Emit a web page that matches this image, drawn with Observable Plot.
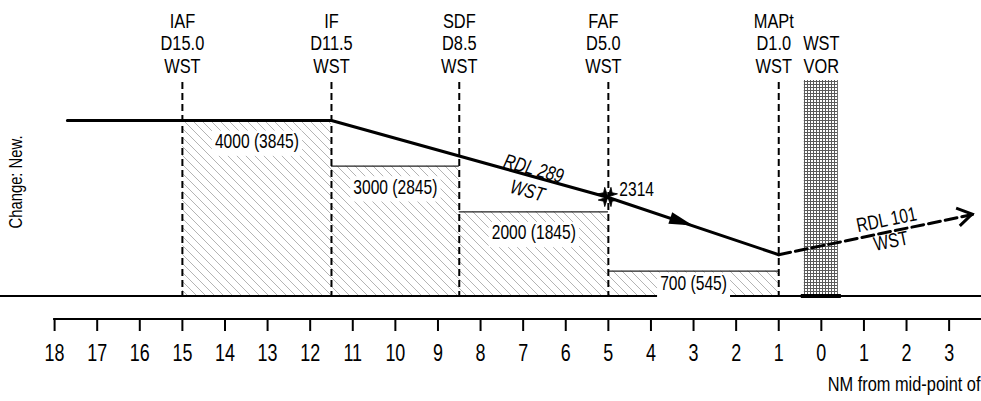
<!DOCTYPE html>
<html>
<head>
<meta charset="utf-8">
<script src="https://cdn.jsdelivr.net/npm/d3@7"></script>
<script src="https://cdn.jsdelivr.net/npm/@observablehq/plot@0.6"></script>
<style>
html,body{margin:0;padding:0;background:#fff;}
</style>
</head>
<body>
<div id="chart"></div>
<script>
// ---------------- data ----------------
const fixNames = ["IAF", "IF", "SDF", "FAF", "MAPt"];
const fixDist  = [15.0, 11.5, 8.5, 5.0, 1.0];
const fixRef   = ["D15.0", "D11.5", "D8.5", "D5.0", "D1.0"];
const fixNav   = ["WST", "WST", "WST", "WST", "WST"];

const stepStart  = [15.0, 11.5, 8.5, 5.0];
const stepEnd    = [11.5, 8.5, 5.0, 1.0];
const stepAlt    = [4000, 3000, 2000, 700];
const stepHeight = [3845, 2845, 1845, 545];

const elevation = 155;

const profileDist = [17.7, 11.5, 5.0, 1.0];
const profileAlt  = [4000, 4000, 2314, 1060];

const missedDist = [1.0, -3.55];
const missedAlt  = [1060, 1940];

const fafAltitude = 2314;
const vorDist = 0;
const vorExtent = [0.4, -0.4];
const vorLabel = ["WST", "VOR"];

const inboundRadial  = ["RDL 289", "WST"];
const outboundRadial = ["RDL 101", "WST"];

const tickValues = [18, 17, 16, 15, 14, 13, 12, 11, 10, 9, 8, 7, 6, 5, 4, 3, 2, 1, 0, -1, -2, -3];
const axisTitle = "NM from mid-point of";
const noteText = "Change: New.";

// ---------------- tables ----------------
const fixes = fixNames.map((n, i) => ({name: n, dist: fixDist[i], label: `${n}\n${fixRef[i]}\n${fixNav[i]}`}));
const steps = stepStart.map((s, i) => ({start: s, end: stepEnd[i], alt: stepAlt[i], height: stepHeight[i]}));
const profile = profileDist.map((d, i) => ({dist: d, alt: profileAlt[i]}));
const missed = missedDist.map((d, i) => ({dist: d, alt: missedAlt[i]}));
const faf = fixes.find(f => f.name === "FAF");

const along = (a, b, t) => ({dist: a.dist + (b.dist - a.dist) * t, alt: a.alt + (b.alt - a.alt) * t});
const inboundAt = along(profile[1], profile[2], 0.72);
const outboundAt = along(missed[0], missed[1], 0.567);

const FONT = "'Liberation Sans Narrow', 'Arial Narrow', 'Liberation Sans', Arial, sans-serif";
const CONDENSE = 0.78; // horizontal squeeze to emulate a narrow face

// ---------------- custom render marks ----------------
function defsMark() {
  const defs = d3.create("svg:defs");
  const h = defs.append("pattern").attr("id", "hatch").attr("patternUnits", "userSpaceOnUse")
    .attr("width", 9).attr("height", 9);
  h.append("path").attr("d", "M0,0L9,9M-1,8L1,10M8,-1L10,1")
    .attr("stroke", "#b4b4b4").attr("stroke-width", 1).attr("fill", "none");
  const g = defs.append("pattern").attr("id", "vorgrid").attr("patternUnits", "userSpaceOnUse")
    .attr("width", 3).attr("height", 3);
  g.append("rect").attr("width", 3).attr("height", 3).attr("fill", "#fff");
  g.append("path").attr("d", "M0,0.5H3M0.5,0V3").attr("stroke", "#5a5a5a").attr("stroke-width", 1);
  return defs.node();
}

function vorBoxMark(index, scales, values, dims) {
  const {x, y} = scales;
  const g = d3.create("svg:g");
  const xa = x(vorExtent[0]), xb = x(vorExtent[1]);
  g.append("rect")
    .attr("x", Math.min(xa, xb)).attr("width", Math.abs(xb - xa))
    .attr("y", dims.marginTop - 2).attr("height", y(elevation) - dims.marginTop + 2)
    .attr("fill", "url(#vorgrid)");
  return g.node();
}

function axisLineMark(index, scales, values, dims) {
  const {x} = scales;
  const g = d3.create("svg:g");
  const yy = dims.height - dims.marginBottom;
  g.append("line").attr("x1", x(tickValues[0]) - 1).attr("x2", dims.width)
    .attr("y1", yy).attr("y2", yy).attr("stroke", "black").attr("stroke-width", 2);
  return g.node();
}

function arrowheadMark(index, scales) {
  const {x, y} = scales;
  const g = d3.create("svg:g");
  // filled arrow in the middle of the final approach
  const a = profile[2], b = profile[3];
  const ax = x(a.dist), ay = y(a.alt), bx = x(b.dist), by = y(b.alt);
  const ang = Math.atan2(by - ay, bx - ax);
  const tx = (ax + bx) / 2, ty = (ay + by) / 2;
  const L = 24, W = 6;
  const c = Math.cos(ang), s = Math.sin(ang);
  g.append("path")
    .attr("d", `M${tx},${ty}L${tx - L * c + W * s},${ty - L * s - W * c}L${tx - L * c - W * s},${ty - L * s + W * c}Z`)
    .attr("fill", "black");
  // open chevron at the end of the missed approach
  const m0 = missed[0], m1 = missed[1];
  const mx0 = x(m0.dist), my0 = y(m0.alt), ex = x(m1.dist), ey = y(m1.alt);
  const ang2 = Math.atan2(ey - my0, ex - mx0);
  const L2 = 17, half = Math.PI / 5.6;
  g.append("path")
    .attr("d", `M${ex - L2 * Math.cos(ang2 - half)},${ey - L2 * Math.sin(ang2 - half)}L${ex},${ey}L${ex - L2 * Math.cos(ang2 + half)},${ey - L2 * Math.sin(ang2 + half)}`)
    .attr("fill", "none").attr("stroke", "black").attr("stroke-width", 3).attr("stroke-linejoin", "miter");
  return g.node();
}

function fafCrossMark(index, scales) {
  const {x, y} = scales;
  const cx = x(faf.dist), cy = y(fafAltitude);
  const g = d3.create("svg:g").attr("transform", `translate(${cx},${cy}) rotate(45)`);
  const armLen = 9, armW = 4.6, notch = 3;
  let d = "";
  for (let k = 0; k < 4; k++) {
    const th = k * Math.PI / 2, c = Math.cos(th), s = Math.sin(th);
    const p = (u, v) => `${u * c - v * s},${u * s + v * c}`;
    d += `M${p(0, 0)}L${p(armLen, -armW)}L${p(armLen - notch, 0)}L${p(armLen, armW)}Z`;
  }
  g.append("path").attr("d", d).attr("fill", "black").attr("stroke", "black").attr("stroke-width", 0.8);
  return g.node();
}

// ---------------- plot ----------------
const chart = Plot.plot({
  width: 981,
  height: 401,
  marginTop: 82,
  marginBottom: 82,
  marginLeft: 0,
  marginRight: 0,
  style: {fontFamily: FONT, fontSize: "20px", background: "white", color: "black", overflow: "visible"},
  x: {domain: [19.27, -3.76], range: [0, 981]},
  y: {domain: [0, 4000], range: [302.6, 120], axis: null},
  marks: [
    defsMark,
    // hatched minimum-altitude steps
    Plot.rect(steps, {x1: "start", x2: "end", y1: elevation, y2: "alt", fill: "url(#hatch)"}),
    Plot.ruleY(steps.slice(1), {x1: "start", x2: "end", y: "alt", stroke: "#222", strokeWidth: 1.2}),
    // ground / aerodrome elevation
    Plot.ruleY([elevation], {stroke: "black", strokeWidth: 2}),
    // VOR
    vorBoxMark,
    Plot.ruleY([elevation], {x1: vorExtent[0], x2: vorExtent[1], stroke: "black", strokeWidth: 4, insetLeft: -3, insetRight: -3}),
    // fix guide lines
    Plot.ruleX(fixes, {x: "dist", y1: null, y2: elevation, stroke: "black", strokeWidth: 2, strokeDasharray: "7,4"}),
    // step labels
    Plot.text(steps, {
      x: d => (d.start + d.end) / 2,
      y: d => Math.max(d.alt - 460, (d.alt + elevation) / 2),
      text: d => `${d.alt} (${d.height})`,
      fontSize: 20
    }),
    // profile
    Plot.line(profile, {x: "dist", y: "alt", stroke: "black", strokeWidth: 3}),
    Plot.line(missed, {x: "dist", y: "alt", stroke: "black", strokeWidth: 3, strokeDasharray: "12,5"}),
    arrowheadMark,
    // FAF cross and altitude
    fafCrossMark,
    Plot.text([faf], {x: "dist", y: () => fafAltitude, text: () => String(fafAltitude), textAnchor: "start", dx: 11, dy: -8, fontSize: 20}),
    // radial labels
    Plot.text([inboundAt], {x: "dist", y: "alt", text: () => inboundRadial.join("\n"), rotate: 15.6, fontStyle: "italic", fontSize: 20, lineHeight: 1.15, dy: 3}),
    Plot.text([outboundAt], {x: "dist", y: "alt", text: () => outboundRadial.join("\n"), rotate: -11.6, fontSize: 20, lineHeight: 1.1, dy: -2}),
    // fix labels
    Plot.text(fixes.filter(f => f.name !== "FAF" && f.name !== "MAPt"), {x: "dist", text: "label", frameAnchor: "top", lineAnchor: "bottom", dy: -10, fontSize: 21, lineHeight: 1.05}),
    Plot.text(fixes.filter(f => f.name === "FAF" || f.name === "MAPt"), {x: "dist", text: "label", frameAnchor: "top", lineAnchor: "bottom", dy: -10, dx: -5, fontSize: 21, lineHeight: 1.05}),
    Plot.text([vorDist], {x: d => d, text: () => vorLabel.join("\n"), frameAnchor: "top", lineAnchor: "bottom", dy: -10, fontSize: 21, lineHeight: 1.05}),
    // axis
    axisLineMark,
    Plot.axisX(tickValues, {anchor: "bottom", tickSize: 12, tickPadding: 13, fontSize: 23, strokeWidth: 2, tickFormat: d => String(Math.abs(d)), label: null}),
    Plot.text([axisTitle], {frameAnchor: "bottom-right", textAnchor: "end", dx: -1, dy: 71, fontSize: 21}),
    Plot.text([noteText], {frameAnchor: "left", textAnchor: "middle", rotate: -90, dx: 15, dy: -19, fontSize: 19})
  ]
});

document.getElementById("chart").append(chart);

// condense every label horizontally around its anchor (no narrow face installed)
d3.select(chart).selectAll("text").each(function() {
  const b = this.getBBox();
  const anchor = getComputedStyle(this).textAnchor;
  const ax = anchor === "start" ? b.x : anchor === "end" ? b.x + b.width : b.x + b.width / 2;
  const t = this.getAttribute("transform") || "";
  this.setAttribute("transform", `${t} translate(${ax},0) scale(${CONDENSE},1) translate(${-ax},0)`);
});

// white boxes behind the minimum-altitude labels
d3.select(chart).selectAll("text").each(function() {
  if (!/^\d+ \(\d+\)$/.test(this.textContent)) return;
  const b = this.getBBox();
  const r = document.createElementNS("http://www.w3.org/2000/svg", "rect");
  r.setAttribute("x", b.x - 4);
  r.setAttribute("y", b.y + 0.5);
  r.setAttribute("width", b.width + 8);
  r.setAttribute("height", b.height + 3);
  r.setAttribute("fill", "white");
  if (this.getAttribute("transform")) r.setAttribute("transform", this.getAttribute("transform"));
  this.parentNode.insertBefore(r, this);
});
</script>
</body>
</html>
